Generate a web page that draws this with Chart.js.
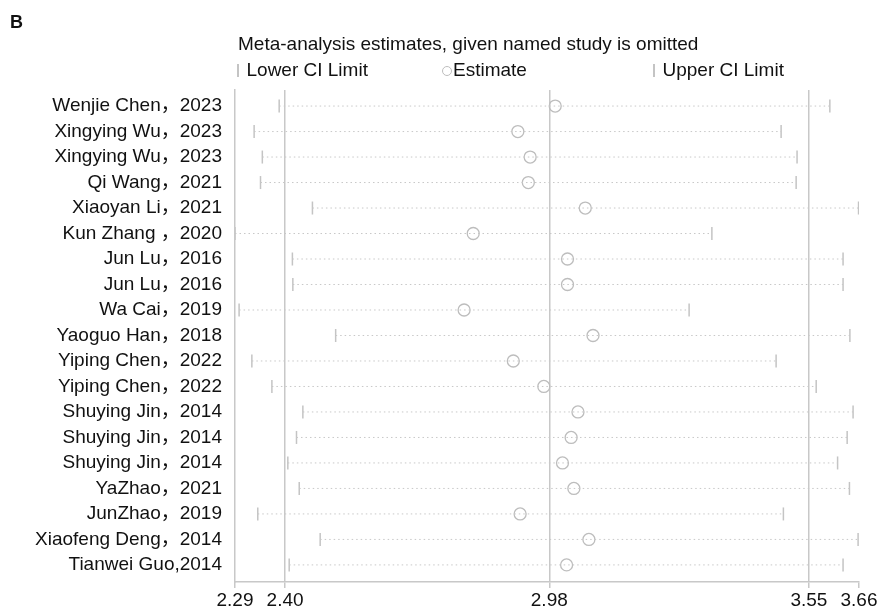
<!DOCTYPE html>
<html>
<head>
<meta charset="utf-8">
<script src="https://cdn.jsdelivr.net/npm/chart.js@4.4.0/dist/chart.umd.min.js"></script>
<style>
  body { margin: 0; background: #fff; font-family: Arial, "Liberation Sans", "Noto Sans CJK SC", sans-serif; color: #111; }
  #wrap { position: relative; width: 885px; height: 612px; }
  canvas { position: absolute; left: 0; top: 0; }
  .txt { position: absolute; font-size: 19px; white-space: nowrap; line-height: 20px; }
  .bar { display: inline-block; width: 1.5px; height: 13px; background: #c4c4c4; vertical-align: -1px; margin-right: 8px; }
  .circ { display: inline-block; width: 10px; height: 10px; border: 1.3px solid #bdbdbd; border-radius: 50%; vertical-align: 0px; margin-right: 1px; box-sizing: border-box; }
</style>
</head>
<body>
<div id="wrap">
  <canvas id="myChart" width="885" height="612"></canvas>
  <div class="txt" style="left:10px; top:12px; font-weight:bold; font-size:18px;">B</div>
  <div class="txt" style="left:238px; top:34px;">Meta-analysis estimates, given named study is omitted</div>
  <div class="txt" style="left:237px; top:60px;"><span class="bar"></span>Lower CI Limit</div>
  <div class="txt" style="left:442px; top:60px;"><span class="circ"></span>Estimate</div>
  <div class="txt" style="left:653px; top:60px;"><span class="bar"></span>Upper CI Limit</div>
</div>
<script>
var studies = ['Wenjie Chen，2023', 'Xingying Wu，2023', 'Xingying Wu，2023', 'Qi Wang，2021', 'Xiaoyan Li，2021',
    'Kun Zhang ，2020', 'Jun Lu，2016', 'Jun Lu，2016', 'Wa Cai，2019', 'Yaoguo Han，2018',
    'Yiping Chen，2022', 'Yiping Chen，2022', 'Shuying Jin，2014', 'Shuying Jin，2014', 'Shuying Jin，2014',
    'YaZhao，2021', 'JunZhao，2019', 'Xiaofeng Deng，2014', 'Tianwei Guo,2014'];
var lower = [2.387, 2.332, 2.350, 2.346, 2.460, 2.290, 2.416, 2.417, 2.299, 2.511,
    2.327, 2.371, 2.439, 2.425, 2.406, 2.431, 2.340, 2.477, 2.409];
var estimate = [2.993, 2.911, 2.938, 2.934, 3.059, 2.813, 3.020, 3.020, 2.793, 3.076,
    2.901, 2.968, 3.043, 3.028, 3.009, 3.034, 2.916, 3.067, 3.018];
var upper = [3.596, 3.489, 3.524, 3.522, 3.659, 3.337, 3.625, 3.625, 3.287, 3.640,
    3.478, 3.566, 3.647, 3.634, 3.613, 3.639, 3.494, 3.658, 3.625];
var xTicks = [2.29, 2.40, 2.98, 3.55, 3.66];
var refLines = [2.40, 2.98, 3.55];

var grey = '#c4c4c4';
var fontFamily = 'Arial, "Liberation Sans", "Noto Sans CJK SC", sans-serif';

// dotted CI segments, one per row, separated by gaps
var segments = [];
studies.forEach(function(s, i) {
    segments.push({x: lower[i], y: i});
    segments.push({x: upper[i], y: i});
    segments.push({x: null, y: null});
});

var ctx = document.getElementById('myChart').getContext('2d');
var myChart = new Chart(ctx, {
    type: 'scatter',
    data: {
        datasets: [{
            data: segments,
            showLine: true,
            spanGaps: false,
            borderColor: '#c8c8c8',
            borderWidth: 1,
            borderDash: [1.5, 3],
            pointRadius: 0
        }, {
            data: lower.map(function(v, i) { return {x: v, y: i}; }),
            pointStyle: 'line',
            rotation: 90,
            pointRadius: 6.5,
            borderColor: grey,
            borderWidth: 1.5
        }, {
            data: upper.map(function(v, i) { return {x: v, y: i}; }),
            pointStyle: 'line',
            rotation: 90,
            pointRadius: 6.5,
            borderColor: grey,
            borderWidth: 1.5
        }, {
            data: estimate.map(function(v, i) { return {x: v, y: i}; }),
            pointStyle: 'circle',
            pointRadius: 6,
            borderColor: '#bdbdbd',
            backgroundColor: 'rgba(255,255,255,0)',
            borderWidth: 1.3
        }]
    },
    options: {
        responsive: false,
        animation: false,
        layout: {
            padding: {top: 90, right: 26, left: 0, bottom: 0}
        },
        plugins: {
            legend: { display: false },
            tooltip: { enabled: false }
        },
        scales: {
            x: {
                type: 'linear',
                min: 2.29,
                max: 3.66,
                afterBuildTicks: function(scale) {
                    scale.ticks = xTicks.map(function(v) { return {value: v}; });
                },
                afterFit: function(scale) { scale.height = 30; },
                grid: {
                    color: function(c) {
                        return c.tick && refLines.indexOf(c.tick.value) >= 0 ? '#c8c8c8' : 'rgba(0,0,0,0)';
                    },
                    lineWidth: 1.5,
                    tickColor: '#c8c8c8',
                    tickLength: 6
                },
                border: { color: '#c8c8c8', width: 1.5 },
                ticks: {
                    color: '#111',
                    font: { family: fontFamily, size: 19 },
                    padding: 1,
                    maxRotation: 0,
                    autoSkip: false,
                    callback: function(value) { return value.toFixed(2); }
                }
            },
            y: {
                type: 'linear',
                reverse: true,
                min: -0.63,
                max: 18.67,
                afterBuildTicks: function(scale) {
                    scale.ticks = studies.map(function(s, i) { return {value: i}; });
                },
                afterFit: function(scale) { scale.width = 235; },
                grid: { display: false, drawTicks: false },
                border: { color: '#c8c8c8', width: 1.5 },
                ticks: {
                    color: '#111',
                    font: { family: fontFamily, size: 19 },
                    padding: 13,
                    autoSkip: false,
                    callback: function(value) { return studies[value]; }
                }
            }
        }
    }
});
</script>
</body>
</html>
